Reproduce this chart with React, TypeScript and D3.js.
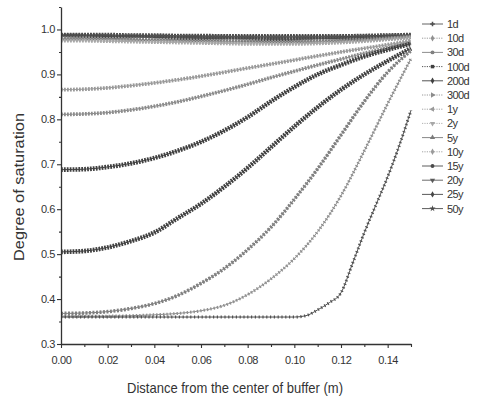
import React, { useEffect, useRef } from "react";
import * as d3 from "d3";

// distance from buffer centre (m)
const distance = [0, 0.01, 0.02, 0.03, 0.04, 0.05, 0.06, 0.07, 0.08, 0.09, 0.1, 0.11, 0.12, 0.13, 0.14, 0.15];
const distance1d = [0, 0.02, 0.04, 0.06, 0.08, 0.1, 0.105, 0.11, 0.115, 0.12, 0.125, 0.13, 0.135, 0.14, 0.145, 0.15];

const names = ["1d", "10d", "30d", "100d", "200d", "300d", "1y", "2y", "5y", "10y", "15y", "20y", "25y", "50y"];

// degree of saturation
const sat1d = [0.36, 0.36, 0.36, 0.36, 0.36, 0.36, 0.363, 0.376, 0.392, 0.414, 0.48, 0.548, 0.61, 0.672, 0.742, 0.82];
const sat10d = [0.362, 0.362, 0.362, 0.363, 0.365, 0.368, 0.374, 0.386, 0.41, 0.445, 0.49, 0.55, 0.63, 0.73, 0.835, 0.935];
const sat30d = [0.368, 0.369, 0.372, 0.379, 0.39, 0.408, 0.435, 0.468, 0.51, 0.56, 0.622, 0.69, 0.765, 0.84, 0.905, 0.953];
const sat100d = [0.505, 0.507, 0.515, 0.529, 0.548, 0.58, 0.612, 0.65, 0.692, 0.738, 0.784, 0.827, 0.866, 0.9, 0.93, 0.958];
const sat200d = [0.688, 0.689, 0.694, 0.702, 0.714, 0.73, 0.75, 0.775, 0.805, 0.84, 0.872, 0.9, 0.921, 0.94, 0.955, 0.968];
const sat300d = [0.811, 0.812, 0.815, 0.821, 0.829, 0.839, 0.851, 0.864, 0.878, 0.893, 0.907, 0.921, 0.934, 0.947, 0.959, 0.97];
const sat1y = [0.866, 0.867, 0.87, 0.875, 0.881, 0.888, 0.896, 0.905, 0.914, 0.923, 0.932, 0.941, 0.95, 0.958, 0.966, 0.975];
const sat2y = [0.975, 0.975, 0.974, 0.973, 0.972, 0.971, 0.97, 0.969, 0.968, 0.968, 0.968, 0.969, 0.971, 0.974, 0.978, 0.982];
const sat5y = [0.978, 0.978, 0.977, 0.976, 0.975, 0.974, 0.973, 0.972, 0.972, 0.971, 0.971, 0.972, 0.974, 0.976, 0.979, 0.983];
const sat10y = [0.98, 0.98, 0.979, 0.978, 0.977, 0.976, 0.975, 0.974, 0.974, 0.973, 0.973, 0.974, 0.975, 0.977, 0.98, 0.984];
const sat15y = [0.985, 0.985, 0.984, 0.983, 0.982, 0.981, 0.98, 0.979, 0.979, 0.978, 0.978, 0.979, 0.98, 0.981, 0.983, 0.985];
const sat20y = [0.986, 0.986, 0.985, 0.985, 0.984, 0.983, 0.982, 0.982, 0.981, 0.981, 0.981, 0.981, 0.982, 0.983, 0.985, 0.986];
const sat25y = [0.987, 0.987, 0.986, 0.986, 0.985, 0.985, 0.984, 0.984, 0.983, 0.983, 0.983, 0.983, 0.984, 0.985, 0.986, 0.987];
const sat50y = [0.988, 0.988, 0.988, 0.987, 0.987, 0.986, 0.986, 0.985, 0.985, 0.985, 0.985, 0.985, 0.985, 0.986, 0.987, 0.988];

const allSat = [sat1d, sat10d, sat30d, sat100d, sat200d, sat300d, sat1y, sat2y, sat5y, sat10y, sat15y, sat20y, sat25y, sat50y];

const yTicks = [0.3, 0.4, 0.5, 0.6, 0.7, 0.8, 0.9, 1.0];
const xTicks = [0, 0.02, 0.04, 0.06, 0.08, 0.1, 0.12, 0.14];

// look of each series: colour, marker chain, legend line
const looks = [
  { color: "#505050", chain: 3, gap: "1.2 2.6", dotted: false, sym: d3.symbolCross, rot: 0 },
  { color: "#909090", chain: 3, gap: "1.4 2", dotted: true, sym: d3.symbolDiamond, rot: 0 },
  { color: "#808080", chain: 3.6, gap: "2 1.5", dotted: false, sym: d3.symbolCircle, rot: 0 },
  { color: "#404040", chain: 4.6, gap: "1.8 1.1", dotted: true, sym: d3.symbolSquare, rot: 0 },
  { color: "#404040", chain: 4.6, gap: "1.8 1.1", dotted: false, sym: d3.symbolDiamond, rot: 0 },
  { color: "#8c8c8c", chain: 3.8, gap: "1.8 1.2", dotted: true, sym: d3.symbolTriangle, rot: 90 },
  { color: "#9a9a9a", chain: 3.8, gap: "1.8 1.2", dotted: true, sym: d3.symbolTriangle, rot: -90 },
  { color: "#a8a8a8", chain: 3.8, gap: "1.8 1.2", dotted: true, sym: d3.symbolTriangle, rot: 180 },
  { color: "#7a7a7a", chain: 3.8, gap: "1.8 1.2", dotted: false, sym: d3.symbolTriangle, rot: 0 },
  { color: "#9a9a9a", chain: 3.8, gap: "1.8 1.2", dotted: true, sym: d3.symbolDiamond, rot: 0 },
  { color: "#4a4a4a", chain: 4.2, gap: "1.8 1.1", dotted: false, sym: d3.symbolCircle, rot: 0 },
  { color: "#5a5a5a", chain: 4.2, gap: "1.8 1.1", dotted: false, sym: d3.symbolTriangle, rot: 180 },
  { color: "#464646", chain: 4.2, gap: "1.8 1.1", dotted: false, sym: d3.symbolDiamond, rot: 0 },
  { color: "#4a4a4a", chain: 4.2, gap: "1.8 1.1", dotted: false, sym: d3.symbolStar, rot: 0 },
];

const FONT = "'Liberation Sans', Arial, sans-serif";

export default function App() {
  const ref = useRef<SVGSVGElement>(null);

  useEffect(() => {
    if (!ref.current) return;
    const svg = d3.select(ref.current);
    svg.selectAll("*").remove();

    const x = d3.scaleLinear().domain([0, 0.15]).range([61, 411]);
    const y = d3.scaleLinear().domain([0.3, 1.05]).range([344, 7]);

    const line = d3.line<[number, number]>()
      .x(d => x(d[0]))
      .y(d => y(d[1]))
      .curve(d3.curveMonotoneX);

    const plot = svg.append("g");
    // draw from longest time to shortest so that the lower curves stay visible
    for (let i = allSat.length - 1; i >= 0; i--) {
      const xs = i === 0 ? distance1d : distance;
      const pts = xs.map((d, k) => [d, allSat[i][k]] as [number, number]);
      const lk = looks[i];
      plot.append("path")
        .attr("d", line(pts))
        .attr("fill", "none")
        .attr("stroke", lk.color)
        .attr("stroke-width", 1);
      plot.append("path")
        .attr("d", line(pts))
        .attr("fill", "none")
        .attr("stroke", lk.color)
        .attr("stroke-width", lk.chain)
        .attr("stroke-dasharray", lk.gap);
    }

    // axes
    const yAxis = svg.append("g")
      .attr("transform", "translate(61,0)")
      .call(d3.axisLeft(y).tickValues(yTicks).tickFormat(d3.format(".1f")).tickSize(4).tickSizeOuter(0).tickPadding(2));
    svg.append("g")
      .attr("transform", "translate(61,0)")
      .call(d3.axisLeft(y).tickValues([0.35, 0.45, 0.55, 0.65, 0.75, 0.85, 0.95, 1.05]).tickFormat(() => "").tickSize(2).tickSizeOuter(0))
      .select(".domain").remove();

    const xAxis = svg.append("g")
      .attr("transform", "translate(0,344)")
      .call(d3.axisBottom(x).tickValues(xTicks).tickFormat(d3.format(".2f")).tickSize(4).tickSizeOuter(0).tickPadding(8));
    svg.append("g")
      .attr("transform", "translate(0,344)")
      .call(d3.axisBottom(x).tickValues([0.01, 0.03, 0.05, 0.07, 0.09, 0.11, 0.13, 0.15]).tickFormat(() => "").tickSize(3).tickSizeOuter(0))
      .select(".domain").remove();

    svg.selectAll(".domain").attr("stroke", "#333").attr("stroke-width", 1.3);
    svg.selectAll(".tick line").attr("stroke", "#333").attr("stroke-width", 1.1);
    [yAxis, xAxis].forEach(a => a.selectAll("text")
      .attr("font-family", FONT)
      .attr("font-size", 11)
      .attr("letter-spacing", -0.4)
      .attr("fill", "#333"));

    // titles
    svg.append("text")
      .attr("x", 235).attr("y", 393)
      .attr("text-anchor", "middle")
      .attr("font-family", FONT).attr("font-size", 15).attr("fill", "#333")
      .attr("textLength", 216).attr("lengthAdjust", "spacingAndGlyphs")
      .text("Distance from the center of buffer (m)");
    svg.append("text")
      .attr("transform", "translate(24,187) rotate(-90)")
      .attr("text-anchor", "middle")
      .attr("font-family", FONT).attr("font-size", 15).attr("fill", "#333")
      .attr("textLength", 148).attr("lengthAdjust", "spacingAndGlyphs")
      .text("Degree of saturation");

    // legend
    const legend = svg.append("g");
    names.forEach((name, i) => {
      const lk = looks[i];
      const ly = 24 + i * 14.2;
      legend.append("line")
        .attr("x1", 422).attr("x2", 443).attr("y1", ly).attr("y2", ly)
        .attr("stroke", lk.color).attr("stroke-width", 0.9)
        .attr("stroke-dasharray", lk.dotted ? "1.2 1.2" : null);
      legend.append("path")
        .attr("d", d3.symbol().type(lk.sym).size(12)())
        .attr("transform", `translate(432.5,${ly}) rotate(${lk.rot})`)
        .attr("fill", lk.color);
      legend.append("text")
        .attr("x", 447).attr("y", ly + 4)
        .attr("font-family", FONT).attr("font-size", 11).attr("fill", "#333")
        .attr("letter-spacing", -0.6)
        .text(name);
    });
  }, []);

  return (
    <div style={{ position: "absolute", left: 0, top: 0 }}>
      <svg ref={ref} width={477} height={400} style={{ display: "block", background: "#fff" }}></svg>
    </div>
  );
}
